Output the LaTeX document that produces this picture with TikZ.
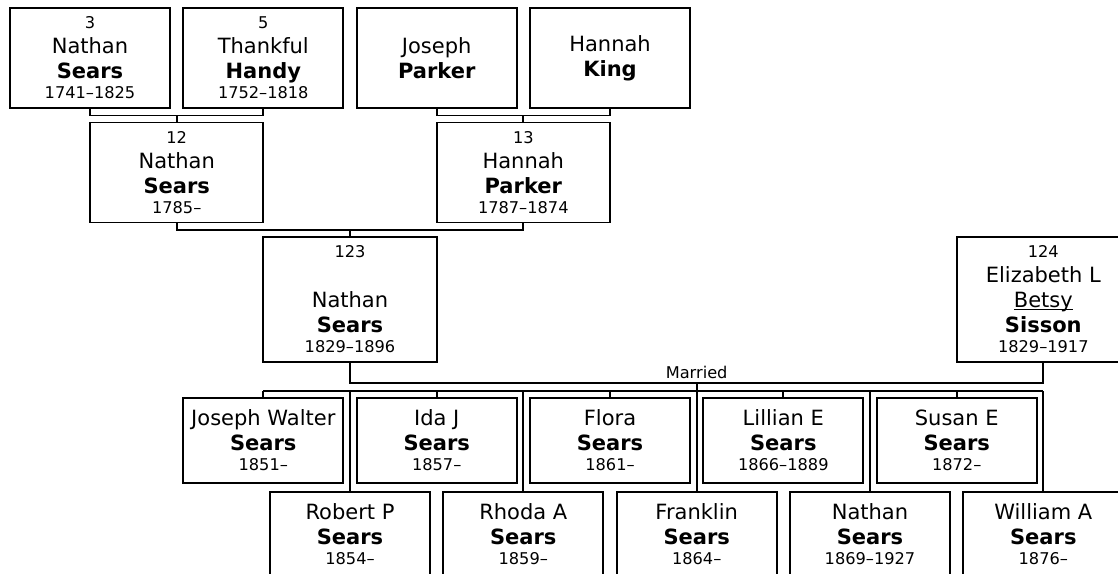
\documentclass[tikz,border=0pt]{standalone}
\usepackage{fontspec}
\setmainfont{DejaVu Sans}
\usetikzlibrary{calc}
\newcommand{\yr}{\fontsize{16.2}{19}\selectfont}
\newcommand{\nick}[1]{\underline{\smash{#1}}}

\begin{document}
\begin{tikzpicture}[x=1pt, y=-1pt,
    person/.style={draw, rectangle, line width=1.8pt, inner sep=0pt, align=center,
        font=\fontsize{21}{25}\selectfont},
    elder/.style={person, minimum width=160pt, minimum height=100pt},
    parent/.style={person, minimum width=173.3pt, minimum height=100pt},
    couple/.style={person, minimum width=173.3pt, minimum height=125pt},
    child/.style={person, minimum width=160pt, minimum height=85pt},
    link/.style={line width=1.8pt}]
\useasboundingbox (0,0) rectangle (1118,573);
\clip (0,0) rectangle (1118,573);

% Great-grandparents
\node[elder] (nathan3) at (90,58) {{\yr 3}\\ Nathan\\ \textbf{Sears}\\[-5pt] {\yr 1741–1825}};
\node[elder] (thankful5) at (263.3,58) {{\yr 5}\\ Thankful\\ \textbf{Handy}\\[-5pt] {\yr 1752–1818}};
\node[elder] (joseph) at (436.7,58) {Joseph\\ \textbf{Parker}};
\node[elder] (hannahK) at (610,58) {Hannah\\ \textbf{King}};

% Grandparents
\node[parent] (nathan12) at (176.7,172.5) {{\yr 12}\\ Nathan\\ \textbf{Sears}\\[-5pt] {\yr 1785–}};
\node[parent] (hannah13) at (523.3,172.5) {{\yr 13}\\ Hannah\\ \textbf{Parker}\\[-5pt] {\yr 1787–1874}};

% Parents
\node[couple] (nathan123) at (350,299.5) {{\yr 123}\\ \\ Nathan\\ \textbf{Sears}\\[-5pt] {\yr 1829–1896}};
\node[couple] (eliz124) at (1043.3,299.5) {{\yr 124}\\ Elizabeth L\\ \nick{Betsy}\\ \textbf{Sisson}\\[-5pt] {\yr 1829–1917}};

% Children
\node[child] (josephW) at (263.3,440.5) {Joseph Walter\\ \textbf{Sears}\\[-5pt] {\yr 1851–}};
\node[child] (idaJ) at (436.7,440.5) {Ida J\\ \textbf{Sears}\\[-5pt] {\yr 1857–}};
\node[child] (flora) at (610,440.5) {Flora\\ \textbf{Sears}\\[-5pt] {\yr 1861–}};
\node[child] (lillianE) at (783.3,440.5) {Lillian E\\ \textbf{Sears}\\[-5pt] {\yr 1866–1889}};
\node[child] (susanE) at (956.7,440.5) {Susan E\\ \textbf{Sears}\\[-5pt] {\yr 1872–}};
\node[child] (robertP) at (350,534.5) {Robert P\\ \textbf{Sears}\\[-5pt] {\yr 1854–}};
\node[child] (rhodaA) at (523.3,534.5) {Rhoda A\\ \textbf{Sears}\\[-5pt] {\yr 1859–}};
\node[child] (franklin) at (696.7,534.5) {Franklin\\ \textbf{Sears}\\[-5pt] {\yr 1864–}};
\node[child] (nathanJr) at (870,534.5) {Nathan\\ \textbf{Sears}\\[-5pt] {\yr 1869–1927}};
\node[child] (williamA) at (1043.3,534.5) {William A\\ \textbf{Sears}\\[-5pt] {\yr 1876–}};

% Bars
\coordinate (bar1) at (0,115.5);
\coordinate (bar2) at (0,230);
\coordinate (bar3) at (0,383);
\coordinate (bar4) at (0,391);

% Lines
\draw[link] (nathan3.south) |- (nathan12.north |- bar1) -| (thankful5.south);
\draw[link] (nathan12.north) -- (nathan12.north |- bar1);
\draw[link] (joseph.south) |- (hannah13.north |- bar1) -| (hannahK.south);
\draw[link] (hannah13.north) -- (hannah13.north |- bar1);
\draw[link] (nathan12.south) |- (nathan123.north |- bar2) -| (hannah13.south);
\draw[link] (nathan123.north) -- (nathan123.north |- bar2);
\draw[link] (nathan123.south) |- node[pos=0.75, above=3pt, inner sep=0pt, font=\yr] (wedlabel) {Married}
    (eliz124.south |- bar3) -- (eliz124.south);
\coordinate (wed) at ($(nathan123.south |- bar3)!0.5!(eliz124.south |- bar3)$);
\draw[link] (wed) -- (wed |- bar4);
\draw[link] (josephW.north |- bar4) -- (williamA.north |- bar4);
\foreach \kid in {josephW, idaJ, flora, lillianE, susanE, robertP, rhodaA, franklin, nathanJr, williamA}
    \draw[link] (\kid.north) -- (\kid.north |- bar4);
\end{tikzpicture}
\end{document}
